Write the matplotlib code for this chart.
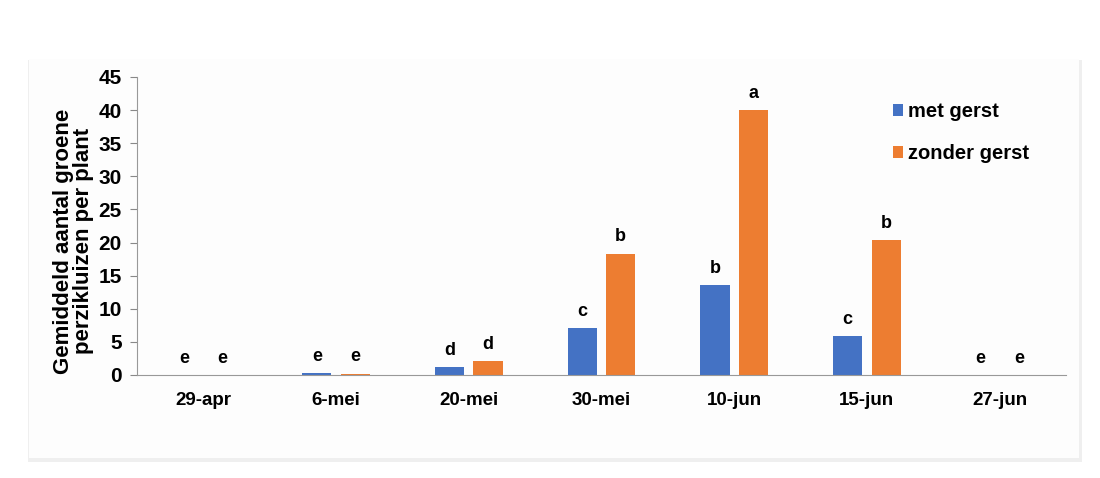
import numpy as np
import matplotlib
matplotlib.use("Agg")
import matplotlib.pyplot as plt
from matplotlib.patches import Rectangle

plt.rcParams['font.family'] = ['Liberation Sans', 'DejaVu Sans']
plt.rcParams['font.weight'] = 'bold'

dates = ['29-apr', '6-mei', '20-mei', '30-mei', '10-jun', '15-jun', '27-jun']
met_gerst = [0, 0.3, 1.2, 7.1, 13.6, 5.9, 0]
zonder_gerst = [0, 0.2, 2.1, 18.3, 40.0, 20.4, 0]
letters_met = ['e', 'e', 'd', 'c', 'b', 'c', 'e']
letters_zonder = ['e', 'e', 'd', 'b', 'a', 'b', 'e']

blue = '#4472C4'
orange = '#ED7D31'

fig = plt.figure(figsize=(11, 4.78), dpi=100)

# card background with a faint shadow
fig.patches.append(Rectangle((28/1100, 1-462/478), 1054/1100, 402/478, transform=fig.transFigure,
                             facecolor='#efefef', edgecolor='none', zorder=-10))
fig.patches.append(Rectangle((29/1100, 1-458/478), 1050/1100, 399/478, transform=fig.transFigure,
                             facecolor='#fdfdfd', edgecolor='none', zorder=-9))

ax = fig.add_axes([137/1100, 1-375/478, 929/1100, 298/478])
ax.set_facecolor('none')
ax.set_zorder(5)

x = np.arange(len(dates))
w = 0.22
off = 0.145
ax.bar(x - off, met_gerst, w, color=blue, label='met gerst')
ax.bar(x + off, zonder_gerst, w, color=orange, label='zonder gerst')

for xi, v, t in zip(x - off, met_gerst, letters_met):
    ax.annotate(t, (xi, v), xytext=(0, 6), textcoords='offset points',
                ha='center', va='bottom', fontsize=13, fontweight='bold')
for xi, v, t in zip(x + off, zonder_gerst, letters_zonder):
    ax.annotate(t, (xi, v), xytext=(0, 6), textcoords='offset points',
                ha='center', va='bottom', fontsize=13, fontweight='bold')

ax.set_xlim(-0.5, len(dates) - 0.5)
ax.set_ylim(0, 45)
ax.set_yticks(np.arange(0, 46, 5))
ax.set_xticks(x)
ax.set_xticklabels(dates, fontsize=13.5, fontweight='bold')
ax.tick_params(axis='x', length=0, pad=12)
ax.tick_params(axis='y', labelsize=15, length=5, color='#888888', pad=6)
for lab in ax.get_yticklabels():
    lab.set_fontweight('bold')

for s in ['top', 'right']:
    ax.spines[s].set_visible(False)
ax.spines['left'].set_color('#999999')
ax.spines['bottom'].set_color('#999999')

ax.set_ylabel('Gemiddeld aantal groene\nperzikluizen per plant', fontsize=16,
              fontweight='bold', linespacing=0.95)
ax.yaxis.set_label_coords(-0.046, 0.45)

fig.legend(loc='upper left', bbox_to_anchor=(893/1100, 1-102/478), frameon=False,
           borderpad=0, borderaxespad=0,
           handlelength=0.5, handleheight=0.5, handletextpad=0.25,
           labelspacing=1.15, prop={'weight': 'bold', 'size': 14.5})

fig.savefig('out.png', dpi=100, facecolor='white')
